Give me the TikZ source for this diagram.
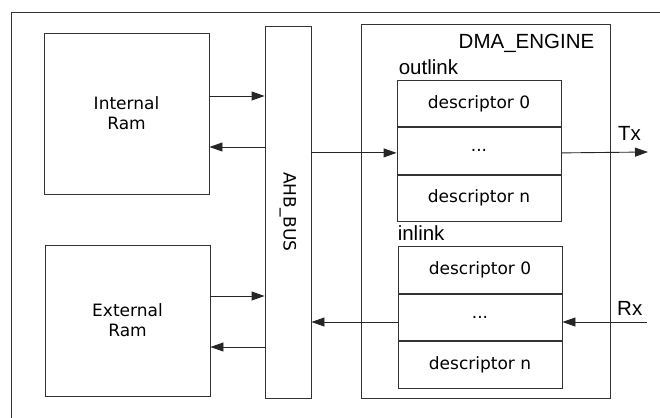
\documentclass[tikz,border=0pt]{standalone}
\usepackage{fontspec}
\newfontfamily\dvfont{DejaVu Sans}
\newfontfamily\libfont{Liberation Sans}
\usetikzlibrary{arrows.meta}
\tikzset{
  box/.style={draw=black!80, line width=0.9pt, rectangle, inner sep=0pt, font=\dvfont\fontsize{17}{20}\selectfont, align=center},
  arr/.style={draw=black!85, line width=0.9pt, -{Triangle[length=13pt,width=9pt]}},
  lbl/.style={inner sep=0pt, font=\libfont\fontsize{20.5}{24}\selectfont},
}
\begin{document}
\begin{tikzpicture}[x=1pt,y=-1pt]
\useasboundingbox (0,0) rectangle (660,417);
\clip (0,0) rectangle (660,417);
\fill[white] (0,0) rectangle (660,417);
\draw[black!80, line width=0.9pt] (11,12) rectangle (690,440);
% left boxes
\node[box, minimum width=165pt, minimum height=161pt] (iram) at (126.5,113.5) {Internal\\Ram};
\node[box, minimum width=165pt, minimum height=151pt] (eram) at (127.5,320.5) {External\\Ram};
\node[box, minimum width=46pt, minimum height=372pt] (ahb) at (288,212) {};
\node[inner sep=0pt, rotate=-90, font=\dvfont\fontsize{17}{20}\selectfont] (ahbt) at (ahb.center) {AHB\_BUS};
% DMA engine
\node[box, minimum width=249pt, minimum height=374pt] (dma) at (485.5,211) {};
\node[lbl, anchor=base east] (dmat) at ([xshift=-16pt,yshift=-25pt]dma.north east) {DMA\_ENGINE};
% outlink
\node[box, minimum width=164pt, minimum height=46.5pt] (o0) at (479,103.5) {descriptor 0};
\node[box, minimum width=164pt, minimum height=46.5pt, anchor=north] (o1) at (o0.south) {...};
\node[box, minimum width=164pt, minimum height=46.5pt, anchor=north] (o2) at (o1.south) {descriptor n};
\node[lbl, anchor=base west] (ol) at ([xshift=2pt,yshift=5pt]o0.north west) {outlink};
% inlink
\node[box, minimum width=164pt, minimum height=46.5pt] (i0) at (480,270) {descriptor 0};
\node[box, minimum width=164pt, minimum height=46.5pt, anchor=north] (i1) at (i0.south) {...};
\node[box, minimum width=164pt, minimum height=46.5pt, anchor=north] (i2) at (i1.south) {descriptor n};
\node[lbl, anchor=base west] (il) at ([yshift=6pt]i0.north west) {inlink};
% Tx / Rx
\coordinate (tx) at (648,152);
\coordinate (rx) at (647,322);
\node[lbl, anchor=base west] (txl) at (618,140) {Tx};
\node[lbl, anchor=base west] (rxl) at (617,315) {Rx};
% arrows
\draw[arr] ([yshift=17.5pt]iram.east) -- ([yshift=17.5pt]iram.east -| ahb.west);
\draw[arr] ([yshift=-33.5pt]iram.east -| ahb.west) -- ([yshift=-33.5pt]iram.east);
\draw[arr] ([yshift=24.5pt]eram.east) -- ([yshift=24.5pt]eram.east -| ahb.west);
\draw[arr] ([yshift=-26.5pt]eram.east -| ahb.west) -- ([yshift=-26.5pt]eram.east);
\draw[arr] ([yshift=-2pt]o1.west -| ahb.east) -- ([yshift=-2pt]o1.west);
\draw[arr] ([yshift=-2pt]o1.east) -- (tx);
\draw[arr] (rx) -- (rx -| i1.east);
\draw[arr] (rx -| i1.west) -- (rx -| ahb.east);
\end{tikzpicture}
\end{document}
